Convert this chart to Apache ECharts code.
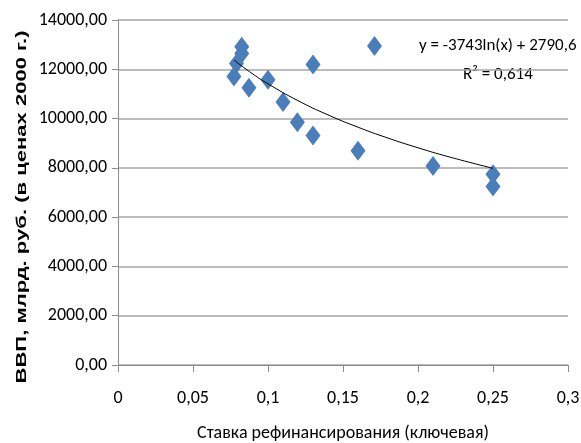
<!DOCTYPE html>
<html><head><meta charset="utf-8">
<script src="https://cdn.jsdelivr.net/npm/echarts@6/dist/echarts.min.js"></script>
<style>html,body{margin:0;padding:0;background:#fff}#c{width:581px;height:443px}</style>
</head><body><div id="c"></div>
<script>
// Data
const rate = [0.0825, 0.0825, 0.079, 0.0773, 0.0873, 0.10, 0.11, 0.1196, 0.13, 0.13, 0.171, 0.16, 0.21, 0.25, 0.25];
const gdp  = [12910, 12640, 12230, 11710, 11250, 11580, 10670, 9850, 9310, 12190, 12940, 8690, 8080, 7740, 7240];
// Trend line points
const trendX = [0.0773, 0.09, 0.10, 0.12, 0.14, 0.16, 0.18, 0.20, 0.22, 0.25];
const trendY = [12373, 11804, 11409, 10727, 10150, 9650, 9209, 8815, 8458, 7980];
const yTitle = 'ВВП, млрд. руб. (в ценах 2000 г.)';
const xTitle = 'Ставка рефинансирования (ключевая)';
const eqText = 'y = -3743ln(x) + 2790,6';
const r2Text = 'R² = 0,614';

const calibri = 'Carlito, "Liberation Sans", sans-serif';
const boldFont = 'bold 15px "Liberation Sans", Arial, sans-serif';
// stretch the vertical title to the length it has in the reference
const mctx = document.createElement('canvas').getContext('2d');
mctx.font = boldFont;
const yTitleScale = 353 / mctx.measureText(yTitle).width;

const chart = echarts.init(document.getElementById('c'), null, {renderer: 'canvas'});
chart.setOption({
  animation: false,
  grid: {left: 118, right: 13, top: 20, bottom: 78, containLabel: false, outerBoundsMode: 'none'},
  xAxis: {
    type: 'value', min: 0, max: 0.3, interval: 0.05,
    name: xTitle, nameLocation: 'middle', nameGap: 59,
    nameTextStyle: {fontFamily: calibri, fontSize: 18, color: '#000'},
    axisLine: {show: true, onZero: false, lineStyle: {color: '#8c8c8c', width: 1}},
    axisTick: {show: true, length: 7, lineStyle: {color: '#8c8c8c'}},
    splitLine: {show: false},
    axisLabel: {fontFamily: calibri, fontSize: 18, color: '#000', margin: 24,
      formatter: v => String(parseFloat(v.toFixed(2))).replace('.', ',')}
  },
  yAxis: {
    type: 'value', min: 0, max: 14000, interval: 2000,
    axisLine: {show: true, lineStyle: {color: '#8c8c8c', width: 1}},
    axisTick: {show: true, length: 6, lineStyle: {color: '#8c8c8c'}},
    splitLine: {show: true, lineStyle: {color: '#a6a6a6', width: 1.5}},
    axisLabel: {fontFamily: calibri, fontSize: 18, color: '#000', margin: 11,
      formatter: v => v.toFixed(2).replace('.', ',')}
  },
  series: [
    {
      type: 'line', data: trendX.map((x, i) => [x, trendY[i]]),
      smooth: true, symbol: 'none', lineStyle: {color: '#000', width: 1}, z: 3
    },
    {
      type: 'scatter', data: rate.map((x, i) => [x, gdp[i]]),
      symbol: 'diamond', symbolSize: [15, 20],
      itemStyle: {color: '#4a7ebb', opacity: 1}, z: 2
    }
  ],
  graphic: [
    {type: 'text', x: 22, y: 207, rotation: Math.PI / 2, scaleX: yTitleScale,
     style: {text: yTitle, font: boldFont, fill: '#000', align: 'center', verticalAlign: 'middle'}},
    {type: 'text', left: 419, top: 37, style: {text: eqText, font: '17px ' + calibri, fill: '#000'}},
    {type: 'text', left: 463, top: 66, style: {text: r2Text, font: '17px ' + calibri, fill: '#000'}}
  ]
});
</script></body></html>
